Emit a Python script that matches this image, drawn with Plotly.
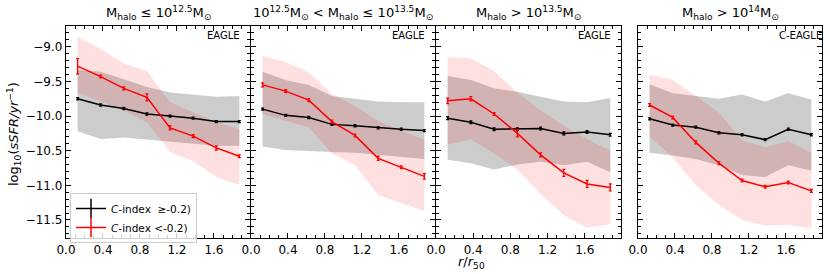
import plotly.graph_objects as go

W, H = 830, 274

r_bins = [0.125, 0.375, 0.625, 0.875, 1.125, 1.375, 1.625, 1.875]

panel_titles = [
    "M<sub>halo</sub> ≤ 10<sup>12.5</sup>M<sub>⊙</sub>",
    "10<sup>12.5</sup>M<sub>⊙</sub> &lt; M<sub>halo</sub> ≤ 10<sup>13.5</sup>M<sub>⊙</sub>",
    "M<sub>halo</sub> &gt; 10<sup>13.5</sup>M<sub>⊙</sub>",
    "M<sub>halo</sub> &gt; 10<sup>14</sup>M<sub>⊙</sub>",
]
sim_labels = ["EAGLE", "EAGLE", "EAGLE", "C-EAGLE"]

# high C-index (>= -0.2), black
hi_med = [
    [-9.75, -9.84, -9.89, -9.97, -10.00, -10.03, -10.08, -10.08],
    [-9.90, -9.99, -10.02, -10.12, -10.14, -10.17, -10.19, -10.21],
    [-10.03, -10.09, -10.19, -10.19, -10.18, -10.25, -10.23, -10.27],
    [-10.04, -10.13, -10.16, -10.24, -10.27, -10.34, -10.19, -10.27],
]
hi_err = [
    [0.015] * 8,
    [0.015] * 8,
    [0.02] * 8,
    [0.015] * 8,
]
hi_up = [
    [-9.33, -9.36, -9.47, -9.58, -9.66, -9.69, -9.72, -9.71],
    [-9.36, -9.48, -9.55, -9.71, -9.75, -9.79, -9.80, -9.80],
    [-9.42, -9.48, -9.60, -9.65, -9.72, -9.79, -9.80, -9.74],
    [-9.54, -9.67, -9.71, -9.75, -9.69, -9.79, -9.67, -9.76],
]
hi_lo = [
    [-10.22, -10.33, -10.31, -10.35, -10.38, -10.40, -10.43, -10.43],
    [-10.44, -10.49, -10.51, -10.52, -10.53, -10.57, -10.59, -10.62],
    [-10.63, -10.68, -10.77, -10.70, -10.66, -10.71, -10.66, -10.81],
    [-10.53, -10.57, -10.62, -10.71, -10.85, -10.88, -10.71, -10.79],
]

# low C-index (< -0.2), red
lo_med = [
    [-9.28, -9.43, -9.60, -9.73, -10.17, -10.29, -10.46, -10.58],
    [-9.55, -9.64, -9.77, -10.08, -10.28, -10.61, -10.74, -10.87],
    [-9.78, -9.75, -9.97, -10.25, -10.56, -10.82, -10.98, -11.03],
    [-9.84, -10.02, -10.38, -10.68, -10.93, -11.02, -10.96, -11.08],
]
lo_err = [
    [0.11, 0.02, 0.02, 0.05, 0.03, 0.02, 0.03, 0.02],
    [0.03, 0.02, 0.02, 0.02, 0.02, 0.03, 0.02, 0.04],
    [0.04, 0.03, 0.02, 0.05, 0.03, 0.05, 0.05, 0.05],
    [0.02, 0.02, 0.02, 0.02, 0.02, 0.02, 0.02, 0.02],
]
lo_up = [
    [-8.86, -9.03, -9.24, -9.35, -9.80, -9.95, -10.09, -10.19],
    [-9.13, -9.22, -9.37, -9.68, -9.85, -10.07, -10.21, -10.34],
    [-9.15, -9.17, -9.35, -9.66, -9.92, -10.14, -10.33, -10.50],
    [-9.40, -9.48, -9.71, -9.95, -10.35, -10.45, -10.36, -10.53],
]
lo_lo = [
    [-9.66, -9.79, -9.92, -10.09, -10.52, -10.65, -10.88, -10.99],
    [-9.97, -10.07, -10.16, -10.54, -10.71, -11.14, -11.26, -11.37],
    [-10.41, -10.34, -10.54, -10.77, -11.12, -11.43, -11.61, -11.56],
    [-10.30, -10.59, -11.00, -11.28, -11.50, -11.58, -11.57, -11.62],
]

x_ticks = [0.0, 0.4, 0.8, 1.2, 1.6]
y_ticks = [-9.0, -9.5, -10.0, -10.5, -11.0, -11.5]
legend_labels = ["<i>C</i>-index  ≥-0.2)", "<i>C</i>-index &lt;-0.2)"]

# layout in pixels
panels_px = [(66, 250), (251, 435), (436, 621), (638, 822)]
top_px, bot_px = 26, 238
FONT = "DejaVu Sans"

fig = go.Figure()

for i in range(4):
    xa = "x" if i == 0 else f"x{i+1}"
    ya = "y" if i == 0 else f"y{i+1}"
    fig.add_trace(go.Scatter(
        x=r_bins + r_bins[::-1], y=hi_up[i] + hi_lo[i][::-1],
        fill="toself", fillcolor="rgba(128,128,128,0.4)", line=dict(width=0),
        mode="lines", hoverinfo="skip", showlegend=False, xaxis=xa, yaxis=ya))
    fig.add_trace(go.Scatter(
        x=r_bins + r_bins[::-1], y=lo_up[i] + lo_lo[i][::-1],
        fill="toself", fillcolor="rgba(255,0,0,0.12)", line=dict(width=0),
        mode="lines", hoverinfo="skip", showlegend=False, xaxis=xa, yaxis=ya))
    fig.add_trace(go.Scatter(
        x=r_bins, y=hi_med[i], mode="lines",
        line=dict(color="black", width=1.5),
        error_y=dict(type="data", array=hi_err[i], color="black", thickness=1.3, width=1.5),
        showlegend=False, xaxis=xa, yaxis=ya))
    fig.add_trace(go.Scatter(
        x=r_bins, y=lo_med[i], mode="lines",
        line=dict(color="red", width=1.5),
        error_y=dict(type="data", array=lo_err[i], color="red", thickness=1.3, width=1.5),
        showlegend=False, xaxis=xa, yaxis=ya))

for lab, col in zip(legend_labels, ["black", "red"]):
    fig.add_trace(go.Scatter(
        x=[None], y=[None], mode="lines+markers", name=lab,
        line=dict(color=col, width=1.5),
        marker=dict(symbol="line-ns-open", size=14, color=col, line=dict(color=col, width=1.5)),
        showlegend=True, xaxis="x", yaxis="y"))

axis_common = dict(
    showline=True, linecolor="black", linewidth=1.3, mirror="ticks",
    ticks="inside", ticklen=5, tickwidth=1, tickcolor="black",
    showgrid=False, zeroline=False, automargin=False,
    tickfont=dict(family=FONT, size=12, color="black"),
)

layout = dict(
    width=W, height=H,
    margin=dict(l=0, r=0, t=0, b=0, autoexpand=False),
    paper_bgcolor="white", plot_bgcolor="white",
    font=dict(family=FONT, color="black"),
    showlegend=True,
    legend=dict(
        x=70 / W, y=1 - 193 / H, xanchor="left", yanchor="top",
        bgcolor="rgba(255,255,255,0.8)", bordercolor="#cccccc", borderwidth=1,
        font=dict(family=FONT, size=10.5, color="black"),
        itemwidth=30, tracegroupgap=0,
    ),
)

ydom = [1 - bot_px / H, 1 - top_px / H]
annotations = []
for i, (l, r) in enumerate(panels_px):
    sfx = "" if i == 0 else str(i + 1)
    layout["xaxis" + sfx] = dict(
        axis_common, domain=[l / W, r / W], range=[0, 1.99],
        tickvals=x_ticks, tickformat=".1f", anchor="y" + sfx,
        minor=dict(dtick=0.1, ticks="inside", ticklen=2.5, tickcolor="black", showgrid=False),
    )
    layout["yaxis" + sfx] = dict(
        axis_common, domain=ydom, range=[-11.76, -8.70],
        tickvals=y_ticks, tickformat=".1f", anchor="x" + sfx,
        showticklabels=(i == 0),
        minor=dict(dtick=0.1, ticks="inside", ticklen=2.5, tickcolor="black", showgrid=False),
    )
    annotations.append(dict(
        text=panel_titles[i], xref="paper", yref="paper",
        x=(l + r) / 2 / W, y=1 - 13 / H, xanchor="center", yanchor="middle",
        showarrow=False, font=dict(family=FONT, size=13, color="black")))
    annotations.append(dict(
        text=sim_labels[i], xref="x" + sfx + " domain", yref="y" + sfx + " domain",
        x=0.755, y=0.955, xanchor="left", yanchor="middle",
        showarrow=False, font=dict(family=FONT, size=10, color="black")))

annotations.append(dict(
    text="log<sub>10</sub>(<i>sSFR/yr</i><sup>−1</sup>)", xref="paper", yref="paper",
    x=14 / W, y=1 - 134 / H, textangle=-90, xanchor="center", yanchor="middle",
    showarrow=False, font=dict(family=FONT, size=13, color="black")))
annotations.append(dict(
    text="<i>r</i>/<i>r</i><sub>50</sub>", xref="paper", yref="paper",
    x=471 / W, y=1 - 262 / H, xanchor="center", yanchor="middle",
    showarrow=False, font=dict(family=FONT, size=13, color="black")))

layout["annotations"] = annotations
fig.update_layout(**layout)

fig.write_html(
    "out.html",
    config={"displayModeBar": False},
    post_script="document.body.style.margin='0';document.body.style.padding='0';",
)
